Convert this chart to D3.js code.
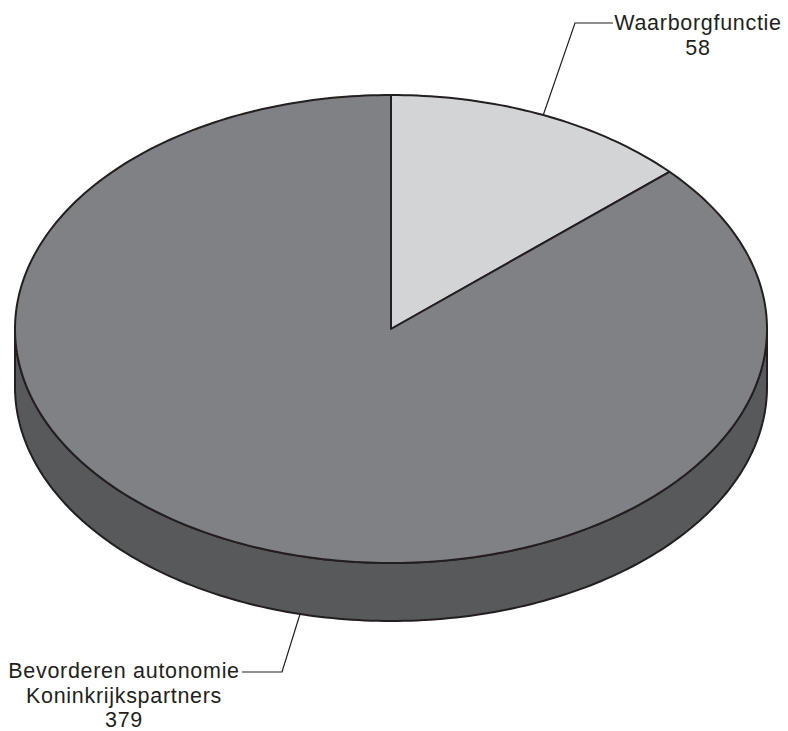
<!DOCTYPE html>
<html>
<head>
<meta charset="utf-8">
<script src="https://cdn.jsdelivr.net/npm/d3@7"></script>
<style>
  body { margin: 0; background: #fff; }
  svg { display: block; }
  text { font-family: "Liberation Sans", Arial, sans-serif; font-size: 21.5px; letter-spacing: 0.7px; fill: #231f20; }
</style>
</head>
<body>
<div id="chart"></div>
<script>
// data
const categories = [["Waarborgfunctie"], ["Bevorderen autonomie", "Koninkrijkspartners"]];
const values = [58, 379];
const topColors = ["#d3d4d6", "#808185"];
const sideColors = ["#a5a6a8", "#58595b"];

const width = 788, height = 731;
const cx = 391, cy = 329, rx = 376, ry = 234, depth = 58;
const stroke = "#231f20";

const svg = d3.select("#chart").append("svg")
    .attr("width", width)
    .attr("height", height);

const pie = d3.pie().sort(null).value(d => d)(values);

// point on ellipse, angle clockwise from 12 o'clock (same as d3.pie)
const pt = (a, dy = 0) => [cx + rx * Math.sin(a), cy - ry * Math.cos(a) + dy];

const arcPoints = (a0, a1, dy = 0) => {
    const n = Math.max(2, Math.ceil(Math.abs(a1 - a0) / (Math.PI / 180)));
    return d3.range(n + 1).map(i => pt(a0 + (a1 - a0) * i / n, dy));
};

const line = d3.line();

// sides (only the front half is visible)
const g = svg.append("g");
pie.forEach((p, i) => {
    const s = Math.max(p.startAngle, Math.PI / 2);
    const e = Math.min(p.endAngle, 3 * Math.PI / 2);
    if (e <= s) return;
    const pts = arcPoints(s, e).concat(arcPoints(e, s, depth));
    g.append("path")
        .attr("d", line(pts) + "Z")
        .attr("fill", sideColors[i])
        .attr("stroke", stroke)
        .attr("stroke-width", 2)
        .attr("stroke-linejoin", "round");
});

// top faces
pie.forEach((p, i) => {
    const pts = [[cx, cy]].concat(arcPoints(p.startAngle, p.endAngle));
    g.append("path")
        .attr("d", line(pts) + "Z")
        .attr("fill", topColors[i])
        .attr("stroke", stroke)
        .attr("stroke-width", 2)
        .attr("stroke-linejoin", "round");
});

// labels with leader lines
const labelLayout = [
    { angle: (pie[0].startAngle + pie[0].endAngle) / 2, dy: 0, elbow: [575, 23], end: [613, 23], tx: 698, ty: 30 },
    { angle: 194 * Math.PI / 180, dy: depth, elbow: [282, 672], end: [242, 672], tx: 124, ty: 678 }
];

labelLayout.forEach((l, i) => {
    const a = pt(l.angle, l.dy);
    svg.append("path")
        .attr("d", line([a, l.elbow, l.end]))
        .attr("fill", "none")
        .attr("stroke", stroke)
        .attr("stroke-width", 1.2);

    const t = svg.append("text")
        .attr("text-anchor", "middle")
        .attr("x", l.tx)
        .attr("y", l.ty);
    categories[i].concat([String(values[i])]).forEach((s, k) => {
        t.append("tspan")
            .attr("x", l.tx)
            .attr("dy", k === 0 ? 0 : 24.5)
            .text(s);
    });
});
</script>
</body>
</html>
